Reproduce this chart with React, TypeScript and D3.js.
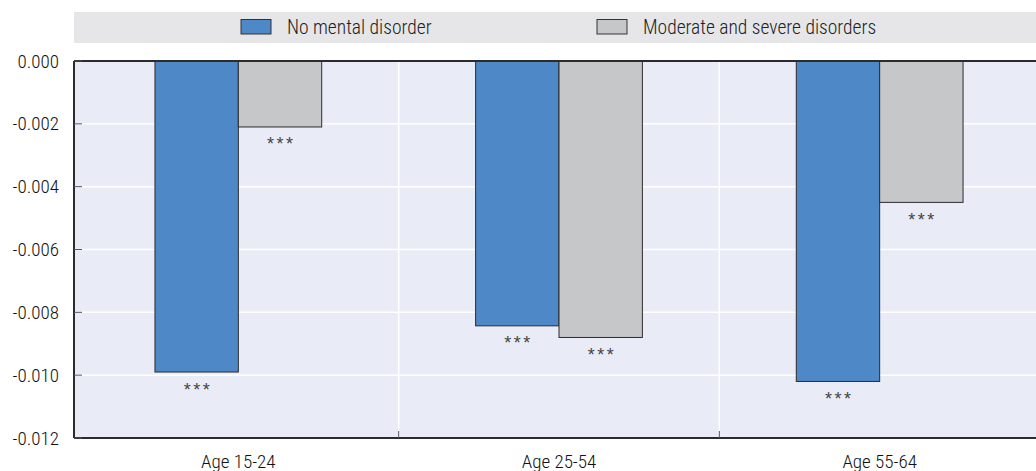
import * as d3 from "d3";

const categories = ["Age 15-24", "Age 25-54", "Age 55-64"];
const seriesNames = ["No mental disorder", "Moderate and severe disorders"];
const noDisorder = [-0.0099, -0.00843, -0.0102];
const moderateSevere = [-0.0021, -0.0088, -0.0045];
const significance = [
  ["***", "***"],
  ["***", "***"],
  ["***", "***"],
];
const yTicks = [0, -0.002, -0.004, -0.006, -0.008, -0.01, -0.012];

const WIDTH = 1036;
const HEIGHT = 471;
const MARGIN = { top: 61, right: 0, bottom: 33, left: 74 };
const COLORS = ["#4e88c7", "#c6c7c9"];
const FONT = "'Roboto Condensed', 'Liberation Sans Narrow', sans-serif";

const App = () => {
  const plotBottom = HEIGHT - MARGIN.bottom;

  const yScale = d3.scaleLinear().domain([-0.012, 0]).range([plotBottom, MARGIN.top]);

  const xScale = d3
    .scaleBand<string>()
    .domain(categories)
    .range([78, 1040])
    .padding(0);

  const step = xScale.step();
  const barWidth = step * 0.26;

  const values = [noDisorder, moderateSevere];

  const bars = categories.map((cat, i) => {
    const center = xScale(cat)! + step / 2;
    return values.map((serie, s) => {
      const x = center + (s - 1) * barWidth;
      const y0 = yScale(0);
      const y1 = yScale(serie[i]);
      return (
        <g key={cat + s}>
          <rect
            x={x}
            y={y0}
            width={barWidth}
            height={y1 - y0}
            fill={COLORS[s]}
            stroke="#2b2b2b"
            strokeWidth={1}
          />
          <text
            x={x + barWidth / 2 + 1.25}
            y={y1 + 23.5}
            textAnchor="middle"
            fontSize={18}
            letterSpacing={2.5}
            fill="#444"
            fontFamily="'Liberation Sans', sans-serif"
          >
            {significance[i][s]}
          </text>
        </g>
      );
    });
  });

  const boundaries = categories.slice(1).map((cat) => xScale(cat)!);

  return (
    <svg
      width={WIDTH}
      height={HEIGHT}
      style={{ position: "absolute", left: 0, top: 0 }}
      fontFamily={FONT}
      fontWeight={300}
    >
      <rect x={0} y={0} width={WIDTH} height={HEIGHT} fill="#fff" />

      {/* legend */}
      <rect x={MARGIN.left} y={12} width={WIDTH - MARGIN.left} height={31} fill="#e6e6e8" />
      {seriesNames.map((name, s) => {
        const lx = [241, 597][s];
        return (
          <g key={name}>
            <rect x={lx} y={19.5} width={30} height={14.5} fill={COLORS[s]} stroke="#333" strokeWidth={1} />
            <text x={lx + 46} y={27.5} dominantBaseline="central" fontSize={19.5} fill="#222">
              {name}
            </text>
          </g>
        );
      })}

      {/* plot background */}
      <rect
        x={MARGIN.left}
        y={MARGIN.top}
        width={WIDTH - MARGIN.left}
        height={plotBottom - MARGIN.top}
        fill="#e9ecf6"
      />

      {/* grid */}
      {yTicks.map((t) => (
        <line
          key={t}
          x1={MARGIN.left}
          x2={WIDTH}
          y1={yScale(t)}
          y2={yScale(t)}
          stroke="#fff"
          strokeWidth={1.5}
        />
      ))}
      {boundaries.map((bx) => (
        <line key={bx} x1={bx} x2={bx} y1={MARGIN.top} y2={plotBottom} stroke="#fff" strokeWidth={1.5} />
      ))}

      {bars}

      {/* axes */}
      <line x1={MARGIN.left} x2={WIDTH} y1={yScale(0)} y2={yScale(0)} stroke="#2b2b2b" strokeWidth={2} />
      <line x1={MARGIN.left} x2={WIDTH} y1={plotBottom} y2={plotBottom} stroke="#2b2b2b" strokeWidth={2} />
      <line x1={MARGIN.left} x2={MARGIN.left} y1={MARGIN.top} y2={plotBottom} stroke="#2b2b2b" strokeWidth={2} />

      {yTicks.map((t) => (
        <g key={"yt" + t}>
          <line x1={MARGIN.left} x2={MARGIN.left + 8} y1={yScale(t)} y2={yScale(t)} stroke="#555" strokeWidth={1} />
          <text
            x={59}
            y={yScale(t)}
            textAnchor="end"
            dominantBaseline="central"
            fontSize={19}
            fill="#111"
          >
            {d3.format(".3f")(t).replace("−", "-")}
          </text>
        </g>
      ))}

      {boundaries.map((bx) => (
        <line key={"xt" + bx} x1={bx} x2={bx} y1={plotBottom - 7} y2={plotBottom} stroke="#555" strokeWidth={1} />
      ))}

      {categories.map((cat) => (
        <text
          key={"xl" + cat}
          x={xScale(cat)! + step / 2}
          y={461}
          textAnchor="middle"
          dominantBaseline="central"
          fontSize={19}
          fill="#111"
        >
          {cat}
        </text>
      ))}
    </svg>
  );
};

export default App;
